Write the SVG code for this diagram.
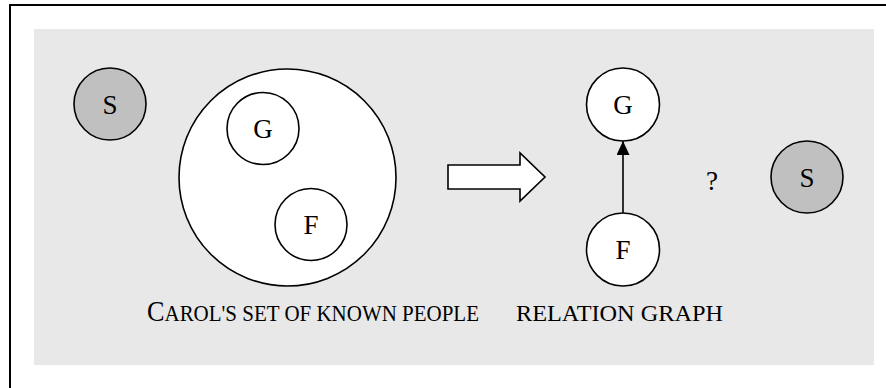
<svg xmlns="http://www.w3.org/2000/svg" width="886" height="388" viewBox="0 0 886 388">
  <style>
    .panel { fill: #e8e8e8; }
    .node circle { fill: #ffffff; stroke: #000000; stroke-width: 1.6; }
    .node.gray circle { fill: #c0c0c0; }
    .lbl { font-family: "Liberation Serif", "Times New Roman", serif; font-size: 27px; fill: #000000; text-anchor: middle; }
    .cap { font-family: "Liberation Serif", "Times New Roman", serif; fill: #000000; }
    .edge { stroke: #000000; stroke-width: 1.6; fill: none; }
  </style>
  <defs>
    <marker id="tri" markerWidth="15" markerHeight="14" refX="14" refY="6.5" orient="auto" markerUnits="userSpaceOnUse">
      <path d="M0,0 L14,6.5 L0,13 Z" fill="#000000"/>
    </marker>
  </defs>

  <rect width="886" height="388" fill="#ffffff"/>
  <!-- frame: top and left rules -->
  <path d="M10,388 V5 H886" fill="none" stroke="#000000" stroke-width="2"/>
  <!-- shaded panel -->
  <rect class="panel" x="34" y="29" width="840" height="336"/>

  <!-- known-people set -->
  <g id="node-s-left" class="node gray">
    <circle cx="110" cy="104" r="36"/>
    <text class="lbl" x="110" y="114">S</text>
  </g>
  <g id="node-set" class="node">
    <circle cx="287.5" cy="177.5" r="108.5"/>
  </g>
  <g id="node-g-set" class="node">
    <circle cx="263" cy="128.5" r="36"/>
    <text class="lbl" x="263" y="138">G</text>
  </g>
  <g id="node-f-set" class="node">
    <circle cx="311" cy="224.5" r="36"/>
    <text class="lbl" x="311" y="234">F</text>
  </g>

  <!-- transform arrow -->
  <g id="node-transform">
    <polygon points="448,165 520,165 520,153 545,177 520,201 520,189 448,189" fill="#ffffff" stroke="#000000" stroke-width="1.6"/>
  </g>

  <!-- relation graph -->
  <g id="node-g-graph" class="node">
    <circle cx="623" cy="104.5" r="36.5"/>
    <text class="lbl" x="623" y="114">G</text>
  </g>
  <g id="node-f-graph" class="node">
    <circle cx="623" cy="249.5" r="36.5"/>
    <text class="lbl" x="623" y="259">F</text>
  </g>
  <g id="node-unknown">
    <text class="lbl" x="712" y="190">?</text>
  </g>
  <g id="node-s-right" class="node gray">
    <circle cx="807" cy="177" r="36"/>
    <text class="lbl" x="807" y="187">S</text>
  </g>

  <g id="connectors">
    <line class="edge" x1="623" y1="213" x2="623" y2="141" marker-end="url(#tri)"/>
  </g>

  <!-- captions -->
  <g id="caption-set">
    <text class="cap" x="147" y="321" textLength="332" lengthAdjust="spacingAndGlyphs"><tspan font-size="30">C</tspan><tspan font-size="24">AROL'S SET OF KNOWN PEOPLE</tspan></text>
  </g>
  <g id="caption-graph">
    <text class="cap" x="516" y="321" font-size="24" textLength="207" lengthAdjust="spacingAndGlyphs">RELATION GRAPH</text>
  </g>
</svg>
